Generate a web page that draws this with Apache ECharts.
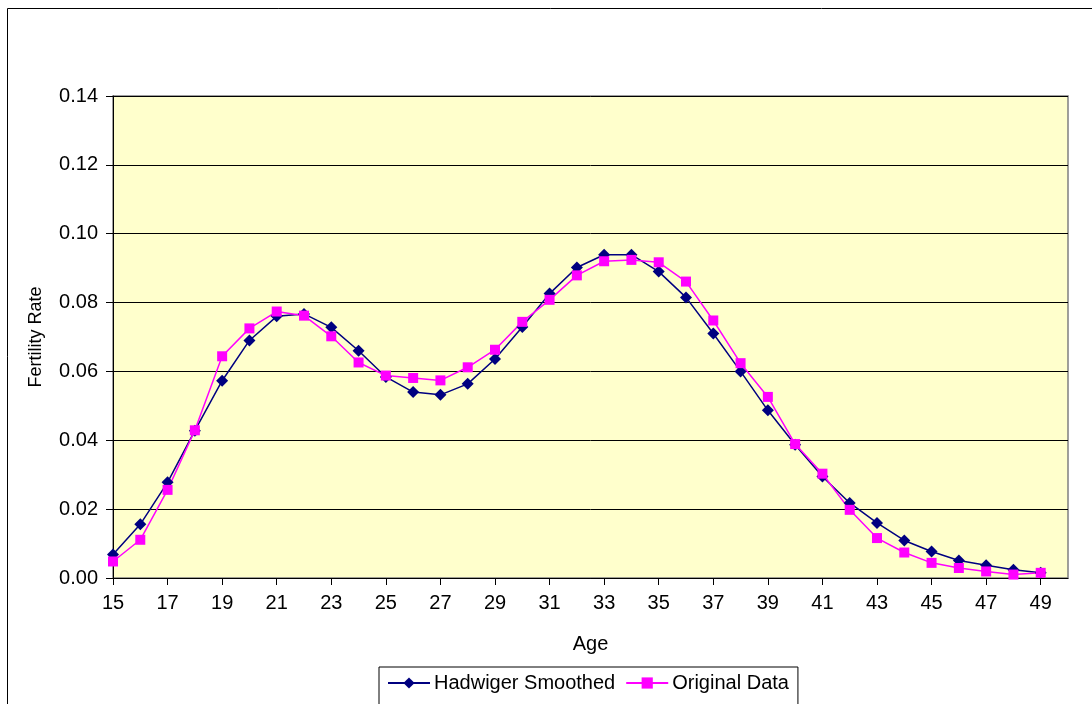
<!DOCTYPE html>
<html>
<head>
<meta charset="utf-8">
<script src="https://cdn.jsdelivr.net/npm/echarts@6/dist/echarts.min.js"></script>
<style>
  html, body { margin: 0; padding: 0; background: #fff; }
  #chart { width: 1092px; height: 704px; }
</style>
</head>
<body>
<div id="chart"></div>
<script>
// ages 15..49, plus an empty slot for 50 so the plot runs on to the right edge
const ages = ['15','16','17','18','19','20','21','22','23','24','25','26','27','28','29','30','31','32',
  '33','34','35','36','37','38','39','40','41','42','43','44','45','46','47','48','49','50']

const hadwiger = [0.0068, 0.0156, 0.0278, 0.0428, 0.0573, 0.0690, 0.0760, 0.0767, 0.0728, 0.0660,
  0.0584, 0.0540, 0.0532, 0.0564, 0.0636, 0.0729, 0.0826, 0.0902, 0.0939, 0.0939,
  0.0890, 0.0815, 0.0710, 0.0600, 0.0487, 0.0387, 0.0295, 0.0218, 0.0160, 0.0109,
  0.0077, 0.0051, 0.0037, 0.0024, 0.0015]

const original = [0.0048, 0.0111, 0.0256, 0.0429, 0.0644, 0.0725, 0.0774, 0.0762, 0.0702, 0.0626,
  0.0588, 0.0581, 0.0574, 0.0612, 0.0663, 0.0744, 0.0808, 0.0879, 0.0920, 0.0924,
  0.0917, 0.0861, 0.0748, 0.0624, 0.0526, 0.0389, 0.0303, 0.0198, 0.0116, 0.0074,
  0.0044, 0.0029, 0.0019, 0.0010, 0.0015]

const chart = echarts.init(document.getElementById('chart'))
const font = 'Liberation Sans, Arial, sans-serif'

const option = {
  animation: false,
  textStyle: { fontFamily: font },
  graphic: [
    // outer chart frame
    { type: 'rect', shape: { x: 7.5, y: 8.5, width: 1100, height: 720 },
      style: { fill: 'none', stroke: '#000', lineWidth: 1 }, silent: true }
  ],
  grid: {
    left: 113, top: 96, right: 24, bottom: 126,
    show: true,
    backgroundColor: '#ffffcc',
    borderColor: '#808080',
    borderWidth: 1.5
  },
  legend: {
    top: 667,
    left: 379,
    itemGap: 10,
    itemWidth: 42,
    itemHeight: 14,
    padding: [6, 9, 14, 8],
    borderColor: '#000',
    borderWidth: 1,
    textStyle: { fontSize: 20, color: '#000', fontFamily: font, padding: [0, 0, 0, -1] },
    data: ['Hadwiger Smoothed', 'Original Data']
  },
  xAxis: {
    type: 'category',
    data: ages,
    boundaryGap: false,
    name: 'Age',
    nameLocation: 'middle',
    nameGap: 56,
    nameTextStyle: { fontSize: 20, color: '#000' },
    axisLine: { lineStyle: { color: '#000', width: 1 } },
    axisTick: { interval: 1, length: 7, lineStyle: { color: '#000' } },
    axisLabel: { interval: 1, fontSize: 20, color: '#000', margin: 15 },
    splitLine: { show: false }
  },
  yAxis: {
    type: 'value',
    min: 0,
    max: 0.14,
    interval: 0.02,
    name: 'Fertility Rate',
    nameLocation: 'middle',
    nameGap: 68,
    nameTextStyle: { fontSize: 18, color: '#000' },
    axisLine: { show: true, lineStyle: { color: '#000', width: 1 } },
    axisTick: { show: true, length: 7, lineStyle: { color: '#000' } },
    axisLabel: { fontSize: 20, color: '#000', margin: 15, formatter: v => v.toFixed(2) },
    splitLine: { lineStyle: { color: '#000', width: 1 } }
  },
  series: [
    {
      name: 'Hadwiger Smoothed',
      type: 'line',
      data: hadwiger,
      symbol: 'diamond',
      symbolSize: 12,
      color: '#000080',
      lineStyle: { width: 1.5, color: '#000080' },
      itemStyle: { color: '#000080' }
    },
    {
      name: 'Original Data',
      type: 'line',
      data: original,
      symbol: 'rect',
      symbolSize: 10,
      color: '#ff00ff',
      lineStyle: { width: 1.5, color: '#ff00ff' },
      itemStyle: { color: '#ff00ff' }
    }
  ]
}

chart.setOption(option)
</script>
</body>
</html>
